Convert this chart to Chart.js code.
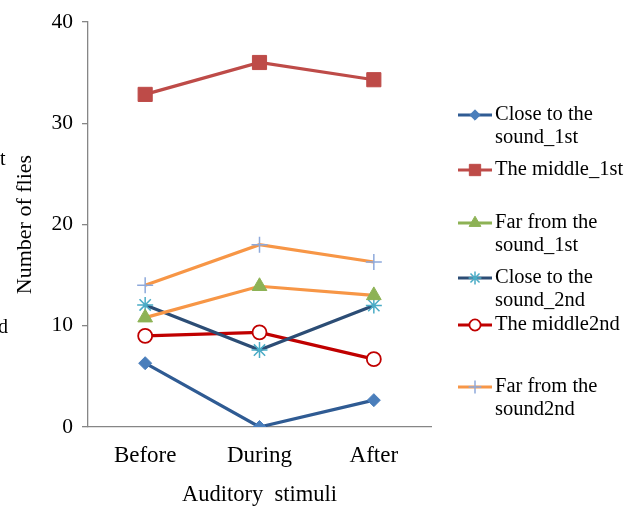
<!DOCTYPE html>
<html>
<head>
<meta charset="utf-8">
<script src="https://cdn.jsdelivr.net/npm/chart.js@4/dist/chart.umd.min.js"></script>
<style>
  html, body { margin: 0; padding: 0; background: #fff; }
  #wrap { position: relative; width: 634px; height: 509px; }
  canvas { display: block; }
  .clip { position: absolute; font-family: "Liberation Serif", serif; font-size: 20px; color: #000; line-height: 1; }
</style>
</head>
<body>
<div id="wrap">
  <canvas id="c" width="634" height="509"></canvas>
  <div class="clip" style="left:0px; top:148px;">t</div>
  <div class="clip" style="left:-2px; top:316px;">d</div>
</div>
<script>
const categories = ['Before', 'During', 'After'];
const seriesNames = [
  'Close to the sound_1st',
  'The middle_1st',
  'Far from the sound_1st',
  'Close to the sound_2nd',
  'The middle2nd',
  'Far from the sound2nd'
];
const legendLines = [
  ['Close to the', 'sound_1st'],
  ['The middle_1st'],
  ['Far from the', 'sound_1st'],
  ['Close to the', 'sound_2nd'],
  ['The middle2nd'],
  ['Far from the', 'sound2nd']
];
const closeFirst = [6.3, 0, 2.65];
const middleFirst = [32.85, 36.0, 34.3];
const farFirst = [10.8, 13.9, 13.0];
const closeSecond = [12.05, 7.6, 12.0];
const middleSecond = [9.0, 9.35, 6.7];
const farSecond = [14.0, 18.0, 16.3];
const yTicks = [0, 10, 20, 30, 40];

const serif = '"Liberation Serif", "Times New Roman", serif';

const datasets = [
  { label: seriesNames[0], data: closeFirst, borderColor: '#2F5B93', legendColor: '#2F5B93',
    pointStyle: 'rectRot', pointRadius: 6.5, pointBackgroundColor: '#4A7EBB', pointBorderColor: '#4A7EBB', pointBorderWidth: 1 },
  { label: seriesNames[1], data: middleFirst, borderColor: '#BE4B48', legendColor: '#BE4B48',
    pointStyle: 'rect', pointRadius: 10, pointBackgroundColor: '#BE4B48', pointBorderColor: '#BE4B48', pointBorderWidth: 1 },
  { label: seriesNames[2], data: farFirst, borderColor: '#F79646', legendColor: '#8DB255',
    pointStyle: 'triangle', pointRadius: 8.5, pointBackgroundColor: '#8DB255', pointBorderColor: '#8DB255', pointBorderWidth: 1 },
  { label: seriesNames[3], data: closeSecond, borderColor: '#2C4D75', legendColor: '#2C4D75',
    pointStyle: 'star', pointRadius: 8, pointBackgroundColor: '#4BACC6', pointBorderColor: '#4BACC6', pointBorderWidth: 1.5 },
  { label: seriesNames[4], data: middleSecond, borderColor: '#C00000', legendColor: '#C00000',
    pointStyle: 'circle', pointRadius: 7, pointBackgroundColor: '#FFFFFF', pointBorderColor: '#C00000', pointBorderWidth: 1.8 },
  { label: seriesNames[5], data: farSecond, borderColor: '#F79646', legendColor: '#F79646',
    pointStyle: 'cross', pointRadius: 8, pointBackgroundColor: '#8EA9DB', pointBorderColor: '#8EA9DB', pointBorderWidth: 1.5 }
].map(d => Object.assign({ borderWidth: 3.2, tension: 0, fill: false, pointHoverRadius: d.pointRadius }, d));

const legendRowY = [115, 170, 223, 278, 325, 387];

const sideLegend = {
  id: 'sideLegend',
  afterDraw(chart) {
    const ctx = chart.ctx;
    ctx.save();
    chart.data.datasets.forEach((ds, i) => {
      const y = legendRowY[i];
      ctx.strokeStyle = ds.legendColor;
      ctx.lineWidth = 3.2;
      ctx.beginPath();
      ctx.moveTo(458, y);
      ctx.lineTo(492, y);
      ctx.stroke();
      ctx.fillStyle = ds.pointBackgroundColor;
      ctx.strokeStyle = ds.pointBorderColor;
      ctx.lineWidth = ds.pointBorderWidth;
      Chart.helpers.drawPoint(ctx, { pointStyle: ds.pointStyle, radius: ds.pointRadius * 0.8, rotation: 0, borderWidth: ds.pointBorderWidth }, 475, y);
      ctx.fillStyle = '#000';
      ctx.font = '20.5px ' + serif;
      ctx.textAlign = 'left';
      ctx.textBaseline = 'middle';
      legendLines[i].forEach((t, k) => ctx.fillText(t, 495, y + k * 23));
    });
    ctx.restore();
  }
};

new Chart(document.getElementById('c'), {
  type: 'line',
  data: { labels: categories, datasets },
  options: {
    responsive: false,
    animation: false,
    layout: { padding: { left: 0, right: 203, top: 22, bottom: 0 } },
    plugins: { legend: { display: false }, tooltip: { enabled: false } },
    scales: {
      x: {
        offset: true,
        afterFit(s) { s.height = 82; },
        grid: { display: false, drawTicks: false },
        border: { display: true, color: '#868686', width: 1.3 },
        ticks: { color: '#000', font: { family: serif, size: 23 }, padding: 15 },
        title: { display: true, text: 'Auditory  stimuli', color: '#000', font: { family: serif, size: 22.5 }, padding: { top: 7, bottom: 0 } }
      },
      y: {
        min: 0, max: 40,
        afterFit(s) { s.width = 88; },
        afterBuildTicks(s) { s.ticks = yTicks.map(v => ({ value: v })); },
        grid: { drawOnChartArea: false, drawTicks: true, tickLength: 6, color: '#868686', lineWidth: 1.3 },
        border: { display: true, color: '#868686', width: 1.3 },
        ticks: { color: '#000', font: { family: serif, size: 21.5 }, padding: 9 },
        title: { display: true, text: 'Number of flies', color: '#000', font: { family: serif, size: 22 }, padding: { top: 12, bottom: 0 } }
      }
    }
  },
  plugins: [sideLegend]
});
</script>
</body>
</html>
